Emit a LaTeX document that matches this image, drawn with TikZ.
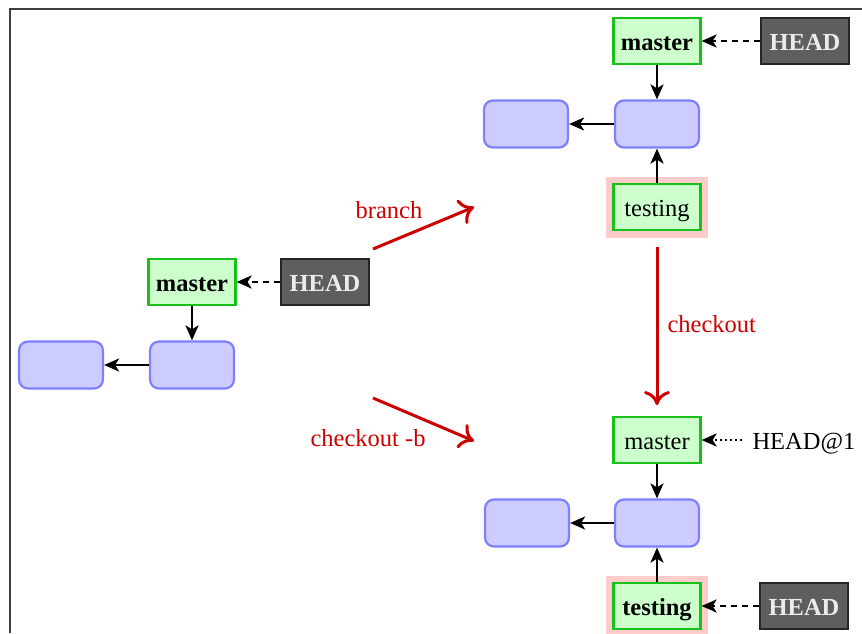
\documentclass[tikz,border=0pt]{standalone}
\usepackage{fontspec}
\setmainfont{Liberation Serif}
\usetikzlibrary{arrows.meta}
\definecolor{headgray}{HTML}{5E5E5E}
\definecolor{brline}{HTML}{18C018}
\definecolor{brfill}{HTML}{CCFFCC}
\definecolor{cmfill}{HTML}{CCCCFF}
\definecolor{cmline}{HTML}{7F7FFF}
\definecolor{opred}{HTML}{CC0000}
\newcommand\diafont{\fontsize{24.5}{28}\selectfont}
\tikzset{
  lowtext/.style={text height=22pt,text depth=3pt},
  branch/.style={draw=brline,fill=brfill,line width=2.2pt,minimum width=87pt,minimum height=46pt,inner sep=2pt,lowtext,font=\diafont},
  curbranch/.style={branch,preaction={draw=red!20,line width=15pt}},
  on/.style={font=\diafont\bfseries},
  commit/.style={draw=cmline,fill=cmfill,line width=2.2pt,rounded corners=9pt,minimum width=84pt,minimum height=47pt},
  head/.style={draw=black!85,fill=headgray,text=white!92!black,line width=2.2pt,minimum width=88pt,minimum height=46pt,inner sep=2pt,lowtext,font=\diafont\bfseries},
  link/.style={line width=2.5pt,-{Stealth[length=15pt,width=13pt,inset=4pt]}},
  ptr/.style={link,dash pattern=on 6pt off 5pt},
  oldptr/.style={link,dash pattern=on 2pt off 3pt},
  op/.style={draw=opred,line width=3pt,-{To[length=14pt,width=26pt]}},
  optext/.style={text=opred,font=\diafont}
}
\begin{document}
\begin{tikzpicture}[x=1pt,y=-1pt]
  \useasboundingbox (0,0) rectangle (862,633);
  \draw[line width=1.6pt,black!75] (10,633) -- (10,9) -- (862,9);
  % before
  \node[branch,on] (mL) at (192,282) {master};
  \node[head] (hL) at (325,282) {HEAD};
  \node[commit] (cL1) at (61,365) {};
  \node[commit] (cL2) at (192,365) {};
  \draw[link] (mL) -- (cL2);
  \draw[link] (cL2) -- (cL1);
  \draw[ptr] (hL) -- (mL);
  % after branch
  \node[branch,on] (mA) at (657,41) {master};
  \node[head] (hA) at (805,41) {HEAD};
  \node[commit] (cA1) at (526,124) {};
  \node[commit] (cA2) at (657,124) {};
  \node[curbranch] (tA) at (657,207) {testing};
  \draw[link] (mA) -- (cA2);
  \draw[link] (tA) -- (cA2);
  \draw[link] (cA2) -- (cA1);
  \draw[ptr] (hA) -- (mA);
  % after checkout
  \node[branch] (mB) at (657,440) {master};
  \node[anchor=west,lowtext,font=\diafont] (hB1) at (749,440) {HEAD@1};
  \node[commit] (cB1) at (527,523) {};
  \node[commit] (cB2) at (657,523) {};
  \node[curbranch,on] (tB) at (657,606) {testing};
  \node[head] (hB) at (804,606) {HEAD};
  \draw[link] (mB) -- (cB2);
  \draw[link] (tB) -- (cB2);
  \draw[link] (cB2) -- (cB1);
  \draw[ptr] (hB) -- (tB);
  \draw[oldptr,shorten <=7pt] (hB1.west) -- (mB);
  % operations
  \coordinate (brS) at (373,249);
  \coordinate (brE) at (474,207);
  \coordinate (cbS) at (373,398);
  \coordinate (cbE) at (474,441);
  \coordinate (coS) at (657,247);
  \coordinate (coE) at (657,405);
  \draw[op] (brS) -- (brE);
  \draw[op] (cbS) -- (cbE);
  \draw[op] (coS) -- (coE);
  \node[optext] (lbr) at (389,210) {branch};
  \node[optext] (lcb) at (368,438) {checkout -b};
  \node[optext,anchor=west] (lco) at (664,324) {checkout};
\end{tikzpicture}
\end{document}
